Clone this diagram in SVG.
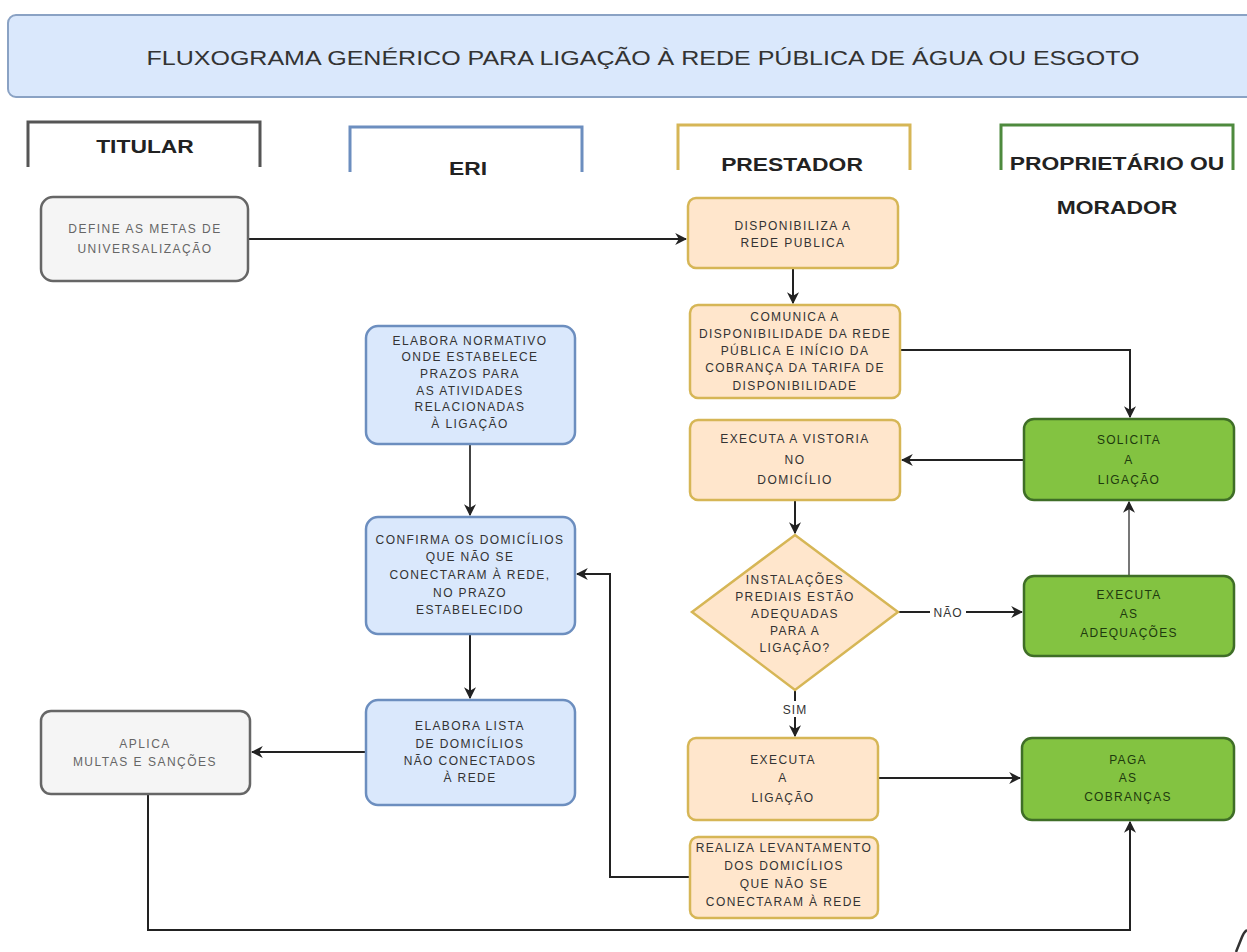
<svg xmlns="http://www.w3.org/2000/svg" width="1247" height="952" viewBox="0 0 1247 952">
<defs>
<marker id="arr" viewBox="0 0 10 10" refX="9" refY="5" markerWidth="6" markerHeight="6" orient="auto-start-reverse" markerUnits="strokeWidth">
<path d="M0,0 L10,5 L0,10 L3,5 Z" fill="#222"/>
</marker>
<style>
text{font-family:"Liberation Sans",Arial,sans-serif;text-anchor:middle}
.t{font-size:12px;letter-spacing:1.4px;fill:#333}
.tg{font-size:12px;letter-spacing:1.5px;fill:#666}
.tn{font-size:12px;letter-spacing:1.3px;fill:#1e3a0e}
.lane{font-size:18px;font-weight:bold;fill:#222}
.gray{fill:#f5f5f5;stroke:#666;stroke-width:2.5}
.blue{fill:#dae8fc;stroke:#6c8ebf;stroke-width:2.5}
.peach{fill:#ffe6cc;stroke:#d6b656;stroke-width:2.5}
.green{fill:#83c341;stroke:#3f6e27;stroke-width:2.5}
.c{fill:none;stroke:#222;stroke-width:2;marker-end:url(#arr)}
.bk{fill:none;stroke-width:3}
</style>
</defs>
<rect width="1247" height="952" fill="#ffffff"/>

<g id="title">
<rect x="8" y="15" width="1260" height="82" rx="8" fill="#dae8fc" stroke="#8aa2c4" stroke-width="2"/>
<text x="643" y="65" font-size="21" fill="#333" textLength="993" lengthAdjust="spacingAndGlyphs">FLUXOGRAMA GENÉRICO PARA LIGAÇÃO À REDE PÚBLICA DE ÁGUA OU ESGOTO</text>
</g>

<g id="lane-titular">
<path class="bk" d="M28,167 V122 H260 V167" stroke="#555"/>
<text class="lane" transform="translate(145,153) scale(1.27,1)">TITULAR</text>
</g>
<g id="lane-eri">
<path class="bk" d="M350,172 V127 H582 V172" stroke="#6c8ebf"/>
<text class="lane" transform="translate(468,175) scale(1.27,1)">ERI</text>
</g>
<g id="lane-prestador">
<path class="bk" d="M678,170 V125 H910 V170" stroke="#d6b656"/>
<text class="lane" transform="translate(792,171) scale(1.27,1)">PRESTADOR</text>
</g>
<g id="lane-proprietario">
<path class="bk" d="M1001,170 V125 H1233 V170" stroke="#4e8a3e"/>
<text class="lane" transform="translate(1117,170) scale(1.27,1)">PROPRIETÁRIO OU</text>
<text class="lane" transform="translate(1117,214) scale(1.27,1)">MORADOR</text>
</g>

<g id="connectors">
<path class="c" d="M248,239 H686"/>
<path class="c" d="M793,268 V303"/>
<path class="c" d="M900,350 H1130 V417"/>
<path class="c" d="M1024,460 H902"/>
<path class="c" d="M795,500 V533"/>
<path class="c" d="M898,612 H1022"/>
<path class="c" d="M1129,576 V502" style="stroke:#777"/>
<path class="c" d="M795,690 V736"/>
<path class="c" d="M878,778 H1020"/>
<path class="c" d="M470,444 V515" style="stroke:#444"/>
<path class="c" d="M470,634 V698"/>
<path class="c" d="M366,752 H252"/>
<path class="c" d="M690,877 H610 V574 H577"/>
<path class="c" d="M148,794 V930 H1130 V822"/>
<rect x="930" y="603" width="36" height="18" fill="#fff"/>
<text x="948" y="617" font-size="12" fill="#333" letter-spacing="1">NÃO</text>
<rect x="780" y="701" width="30" height="16" fill="#fff"/>
<text x="795" y="714" font-size="12" fill="#333" letter-spacing="1">SIM</text>
</g>

<g id="n-define">
<rect class="gray" x="41" y="197" width="207" height="84" rx="12"/>
<text class="tg" x="145" y="233">DEFINE AS METAS DE</text>
<text class="tg" x="145" y="253">UNIVERSALIZAÇÃO</text>
</g>

<g id="n-disponibiliza">
<rect class="peach" x="688" y="198" width="210" height="70" rx="8"/>
<text class="t" x="793" y="230">DISPONIBILIZA A</text>
<text class="t" x="793" y="247">REDE PUBLICA</text>
</g>

<g id="n-comunica">
<rect class="peach" x="690" y="305" width="210" height="93" rx="8"/>
<text class="t" x="795" y="321">COMUNICA A</text>
<text class="t" x="795" y="338">DISPONIBILIDADE DA REDE</text>
<text class="t" x="795" y="355">PÚBLICA E INÍCIO DA</text>
<text class="t" x="795" y="372">COBRANÇA DA TARIFA DE</text>
<text class="t" x="795" y="390">DISPONIBILIDADE</text>
</g>

<g id="n-vistoria">
<rect class="peach" x="690" y="420" width="210" height="80" rx="8"/>
<text class="t" x="795" y="443">EXECUTA A VISTORIA</text>
<text class="t" x="795" y="464">NO</text>
<text class="t" x="795" y="484">DOMICÍLIO</text>
</g>

<g id="n-decisao">
<path d="M795,535 L898,612 L795,690 L692,612 Z" fill="#ffe6cc" stroke="#d6b656" stroke-width="2.5"/>
<text class="t" x="795" y="584">INSTALAÇÕES</text>
<text class="t" x="795" y="601">PREDIAIS ESTÃO</text>
<text class="t" x="795" y="618">ADEQUADAS</text>
<text class="t" x="795" y="635">PARA A</text>
<text class="t" x="795" y="652">LIGAÇÃO?</text>
</g>

<g id="n-executa-ligacao">
<rect class="peach" x="688" y="738" width="190" height="82" rx="8"/>
<text class="t" x="783" y="764">EXECUTA</text>
<text class="t" x="783" y="782">A</text>
<text class="t" x="783" y="802">LIGAÇÃO</text>
</g>

<g id="n-levantamento">
<rect class="peach" x="690" y="837" width="188" height="81" rx="8"/>
<text class="t" x="784" y="852">REALIZA LEVANTAMENTO</text>
<text class="t" x="784" y="870">DOS DOMICÍLIOS</text>
<text class="t" x="784" y="888">QUE NÃO SE</text>
<text class="t" x="784" y="906">CONECTARAM À REDE</text>
</g>

<g id="n-normativo">
<rect class="blue" x="366" y="326" width="209" height="118" rx="12"/>
<text class="t" x="470" y="345">ELABORA NORMATIVO</text>
<text class="t" x="470" y="361">ONDE ESTABELECE</text>
<text class="t" x="470" y="378">PRAZOS PARA</text>
<text class="t" x="470" y="395">AS ATIVIDADES</text>
<text class="t" x="470" y="411">RELACIONADAS</text>
<text class="t" x="470" y="428">À LIGAÇÃO</text>
</g>

<g id="n-confirma">
<rect class="blue" x="366" y="517" width="209" height="117" rx="12"/>
<text class="t" x="470" y="544">CONFIRMA OS DOMICÍLIOS</text>
<text class="t" x="470" y="561">QUE NÃO SE</text>
<text class="t" x="470" y="579">CONECTARAM À REDE,</text>
<text class="t" x="470" y="597">NO PRAZO</text>
<text class="t" x="470" y="614">ESTABELECIDO</text>
</g>

<g id="n-lista">
<rect class="blue" x="366" y="700" width="209" height="105" rx="12"/>
<text class="t" x="470" y="730">ELABORA LISTA</text>
<text class="t" x="470" y="748">DE DOMICÍLIOS</text>
<text class="t" x="470" y="765">NÃO CONECTADOS</text>
<text class="t" x="470" y="782">À REDE</text>
</g>

<g id="n-multas">
<rect class="gray" x="41" y="711" width="209" height="83" rx="10"/>
<text class="tg" x="145" y="748">APLICA</text>
<text class="tg" x="145" y="766">MULTAS E SANÇÕES</text>
</g>

<g id="n-solicita">
<rect class="green" x="1024" y="419" width="210" height="81" rx="10"/>
<text class="tn" x="1129" y="444">SOLICITA</text>
<text class="tn" x="1129" y="464">A</text>
<text class="tn" x="1129" y="484">LIGAÇÃO</text>
</g>

<g id="n-adequacoes">
<rect class="green" x="1024" y="576" width="210" height="80" rx="10"/>
<text class="tn" x="1129" y="599">EXECUTA</text>
<text class="tn" x="1129" y="618">AS</text>
<text class="tn" x="1129" y="637">ADEQUAÇÕES</text>
</g>

<g id="n-paga">
<rect class="green" x="1022" y="738" width="212" height="82" rx="10"/>
<text class="tn" x="1128" y="764">PAGA</text>
<text class="tn" x="1128" y="782">AS</text>
<text class="tn" x="1128" y="801">COBRANÇAS</text>
</g>

<path d="M1236,952 L1242,937 Q1244,932 1247,930" fill="none" stroke="#333" stroke-width="2.5"/>
</svg>
